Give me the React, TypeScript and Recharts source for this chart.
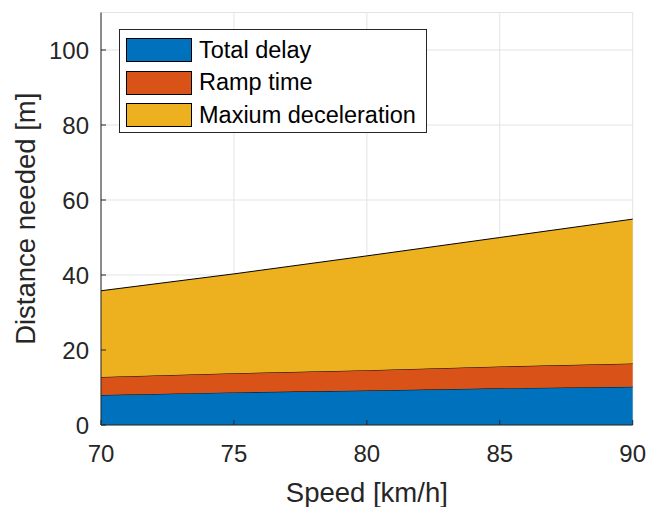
import React from 'react';
import { AreaChart, Area, XAxis, YAxis, CartesianGrid, Legend } from 'recharts';

const speeds = [70, 75, 80, 85, 90];
const totalDelay = [8.0, 8.7, 9.2, 9.8, 10.2];
const rampTime = [4.8, 5.1, 5.4, 5.8, 6.2];
const maxDecel = [23.0, 26.5, 30.5, 34.4, 38.5];
const xTicks = [70, 75, 80, 85, 90];
const yTicks = [0, 20, 40, 60, 80, 100];

const seriesNames = ['Total delay', 'Ramp time', 'Maxium deceleration'];
const seriesColors = ['#0072BD', '#D95319', '#EDB120'];

const data = speeds.map((s, i) => ({
  speed: s,
  delay: totalDelay[i],
  ramp: rampTime[i],
  decel: maxDecel[i],
}));

const FONT = '"Liberation Sans", Arial, Helvetica, sans-serif';
const AX = '#262626';

const YTick = (props: any) => {
  const { x, y, payload } = props;
  return (
    <g>
      <line x1={x + 12} x2={x + 17} y1={y} y2={y} stroke={AX} strokeWidth={1} />
      <text x={x} y={y + 8.5} textAnchor="end" fontSize={24} fontFamily={FONT} fill={AX}>
        {payload.value}
      </text>
    </g>
  );
};

const XTick = (props: any) => {
  const { x, y, payload } = props;
  return (
    <g>
      <line x1={x} x2={x} y1={y} y2={y - 5} stroke={AX} strokeWidth={1} />
      <text x={x} y={y + 37} textAnchor="middle" fontSize={24} fontFamily={FONT} fill={AX}>
        {payload.value}
      </text>
    </g>
  );
};

const YLabel = (props: any) => {
  const vb = props.viewBox || {};
  const cy = (vb.y ?? 12.5) + (vb.height ?? 412.5) / 2;
  const bx = 35;
  return (
    <text
      x={bx}
      y={cy}
      transform={`rotate(-90, ${bx}, ${cy})`}
      textAnchor="middle"
      fontSize={27.5}
      fontFamily={FONT}
      fill={AX}
    >
      Distance needed [m]
    </text>
  );
};

const XLabel = (props: any) => {
  const vb = props.viewBox || {};
  const cx = (vb.x ?? 101) + (vb.width ?? 531.7) / 2;
  return (
    <text x={cx} y={502} textAnchor="middle" fontSize={27.5} fontFamily={FONT} fill={AX}>
      Speed [km/h]
    </text>
  );
};

const LegendBox = () => (
  <div
    style={{
      position: 'absolute',
      left: 119,
      top: 29,
      width: 308,
      height: 104,
      border: '1px solid #262626',
      background: '#fff',
      boxSizing: 'border-box',
      fontFamily: FONT,
    }}
  >
    {seriesNames.map((n, i) => (
      <div key={n} style={{ position: 'absolute', left: 6, top: 7.5 + i * 32.7, height: 25, display: 'flex', alignItems: 'center' }}>
        <div style={{ width: 66, height: 24, background: seriesColors[i], border: '1px solid #000', boxSizing: 'border-box' }} />
        <span style={{ marginLeft: 7, fontSize: 23.5, color: '#000', lineHeight: '25px', whiteSpace: 'nowrap' }}>{n}</span>
      </div>
    ))}
  </div>
);

export default function App() {
  return (
    <div style={{ position: 'absolute', left: 0, top: 0, width: 648, height: 507, background: '#fff' }}>
      <AreaChart width={648} height={507} data={data} margin={{ top: 12.5, right: 15.3, left: 0, bottom: 0 }}>
        <CartesianGrid stroke="#e3e3e3" strokeWidth={1} vertical horizontal />
        <Area type="linear" dataKey="delay" stackId="1" stroke="#000" strokeWidth={1} fill={seriesColors[0]} fillOpacity={1} isAnimationActive={false} dot={false} activeDot={false} />
        <Area type="linear" dataKey="ramp" stackId="1" stroke="#000" strokeWidth={1} fill={seriesColors[1]} fillOpacity={1} isAnimationActive={false} dot={false} activeDot={false} />
        <Area type="linear" dataKey="decel" stackId="1" stroke="#000" strokeWidth={1} fill={seriesColors[2]} fillOpacity={1} isAnimationActive={false} dot={false} activeDot={false} />
        <XAxis
          dataKey="speed"
          type="number"
          domain={[70, 90]}
          ticks={xTicks}
          height={82}
          tickLine={false}
          tickSize={0}
          tickMargin={0}
          axisLine={{ stroke: AX, strokeWidth: 1 }}
          tick={<XTick />}
          label={<XLabel />}
        />
        <YAxis
          type="number"
          domain={[0, 110]}
          ticks={yTicks}
          width={101}
          tickLine={false}
          tickSize={0}
          tickMargin={12}
          axisLine={{ stroke: AX, strokeWidth: 1 }}
          tick={<YTick />}
          label={<YLabel />}
        />
        <Legend content={<LegendBox />} wrapperStyle={{ position: 'absolute', left: 0, top: 0, width: 0, height: 0 }} />
      </AreaChart>
    </div>
  );
}
